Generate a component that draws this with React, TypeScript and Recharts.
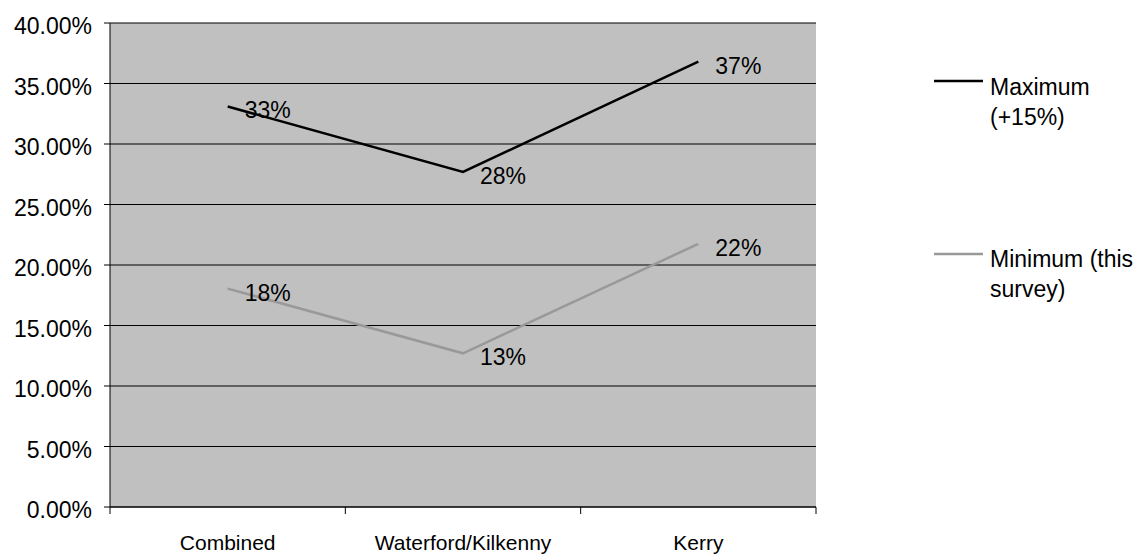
import React from 'react';
import { LineChart, Line, XAxis, YAxis, CartesianGrid, LabelList } from 'recharts';

const categories = ['Combined', 'Waterford/Kilkenny', 'Kerry'];
const maximumValues = [33.1, 27.7, 36.8];
const minimumValues = [18.05, 12.7, 21.75];
const yTicks = [0, 5, 10, 15, 20, 25, 30, 35, 40];
const seriesNames = ['Maximum (+15%)', 'Minimum (this survey)'];
const legendLines = [['Maximum', '(+15%)'], ['Minimum (this', 'survey)']];
const seriesColors = ['#000000', '#999999'];

const data = categories.map((name, i) => ({
  name,
  max: maximumValues[i],
  min: minimumValues[i],
}));

const FONT = '"Liberation Sans", Arial, Helvetica, sans-serif';

const CategoryTick = (props: any) => {
  const { x, y, payload, index, visibleTicksCount } = props;
  const half = payload && payload.offset ? payload.offset : 117.7;
  const axisY = y - 28;
  const count = visibleTicksCount || categories.length;
  return (
    <g>
      <line x1={x - half} x2={x - half} y1={axisY} y2={axisY + 7} stroke="#000" strokeWidth={1} />
      {index === count - 1 && (
        <line x1={x + half} x2={x + half} y1={axisY} y2={axisY + 7} stroke="#000" strokeWidth={1} />
      )}
      <text x={x} y={y} dy="0.71em" textAnchor="middle" fontSize={21} fontFamily={FONT} fill="#000">
        {payload.value}
      </text>
    </g>
  );
};

const ValueLabel = (props: any) => {
  const { x, y, value } = props;
  return (
    <text x={x + 17} y={y + 4} dominantBaseline="central" fontSize={23} fontFamily={FONT} fill="#000">
      {Math.round(value)}%
    </text>
  );
};

const LegendBlock = () => {
  const tops = [72, 244];
  const lineYs = [81, 254];
  return (
    <>
      {legendLines.map((lines, i) => (
        <React.Fragment key={seriesNames[i]}>
          <svg width={50} height={6} style={{ position: 'absolute', left: 934, top: lineYs[i] - 3 }}>
            <line x1={0} x2={49} y1={3} y2={3} stroke={seriesColors[i]} strokeWidth={2.5} />
          </svg>
          <div style={{ position: 'absolute', left: 990, top: tops[i], fontFamily: FONT, fontSize: 23, lineHeight: '30px', whiteSpace: 'nowrap', color: '#000' }}>
            {lines.map((t) => (
              <div key={t}>{t}</div>
            ))}
          </div>
        </React.Fragment>
      ))}
    </>
  );
};

export default function App() {
  return (
    <div style={{ position: 'absolute', left: 0, top: 0, width: 1139, height: 554, background: '#fff' }}>
      <LineChart width={1139} height={554} data={data} margin={{ top: 23, right: 323, bottom: 0, left: 0 }}>
        <CartesianGrid vertical={false} stroke="#000" strokeWidth={1} fill="#C0C0C0" fillOpacity={1} />
        <XAxis
          dataKey="name"
          scale="band"
          height={47}
          axisLine={{ stroke: '#000', strokeWidth: 1 }}
          tickLine={false}
          tickSize={0}
          tickMargin={28}
          tick={<CategoryTick />}
          interval={0}
        />
        <YAxis
          width={110}
          domain={[0, 40]}
          ticks={yTicks}
          interval={0}
          axisLine={{ stroke: '#000', strokeWidth: 1 }}
          tickLine={{ stroke: '#000', strokeWidth: 1 }}
          tickSize={6}
          tickMargin={12}
          tickFormatter={(v: number) => `${v.toFixed(2)}%`}
          tick={{ fontSize: 23, fontFamily: FONT, fill: '#000', dy: 3 }}
        />
        <Line
          type="linear"
          dataKey="max"
          name={seriesNames[0]}
          stroke={seriesColors[0]}
          strokeWidth={2.5}
          dot={false}
          activeDot={false}
          isAnimationActive={false}
        >
          <LabelList dataKey="max" content={<ValueLabel />} />
        </Line>
        <Line
          type="linear"
          dataKey="min"
          name={seriesNames[1]}
          stroke={seriesColors[1]}
          strokeWidth={2.5}
          dot={false}
          activeDot={false}
          isAnimationActive={false}
        >
          <LabelList dataKey="min" content={<ValueLabel />} />
        </Line>
      </LineChart>
      <LegendBlock />
    </div>
  );
}
